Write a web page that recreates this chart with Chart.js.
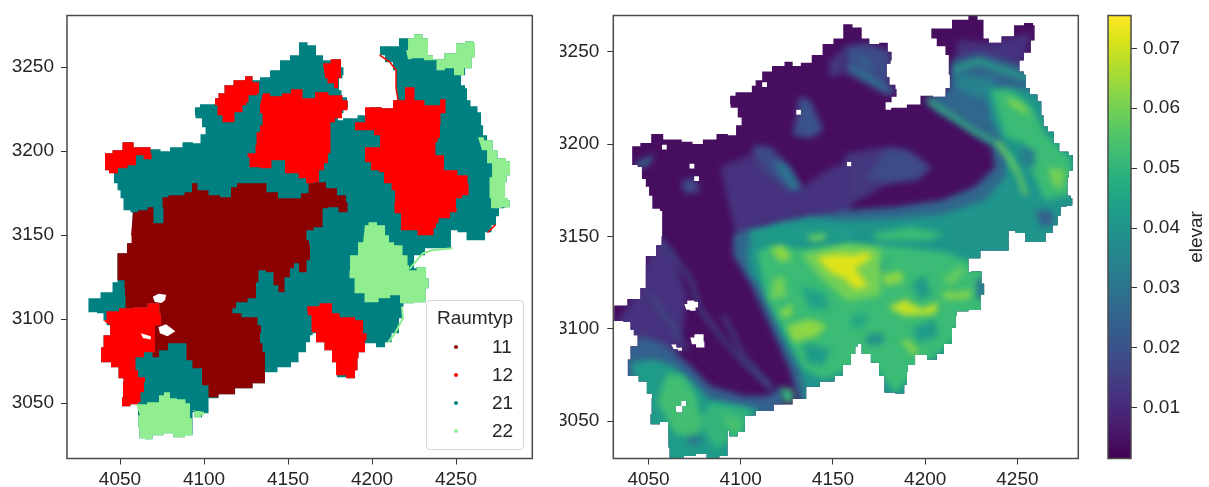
<!DOCTYPE html>
<html><head><meta charset="utf-8">
<script src="https://cdn.jsdelivr.net/npm/chart.js@4/dist/chart.umd.js"></script>
<style>
html,body{margin:0;padding:0;background:#fff;width:1209px;height:487px;overflow:hidden;font-family:"Liberation Sans",Arial,sans-serif;color:#262626}
canvas{position:absolute;top:0}
#legend{position:absolute;left:426px;top:300px;width:96px;height:148px;border:1.5px solid #d8d8d8;border-radius:4px;background:rgba(255,255,255,.85);font-size:19px}
#legend .t{position:absolute;left:0;right:0;top:6px;text-align:center}
#legend .r{position:absolute;left:0;right:0;height:20px;line-height:20px}
#legend .d{position:absolute;left:27px;top:8px;width:4px;height:4px;border-radius:50%}
#legend .l{position:absolute;left:65px}
#cblabel{position:absolute;left:1166px;top:226px;width:60px;text-align:center;font-size:19px;transform:rotate(-90deg)}
</style></head><body>
<canvas id="c1" width="545" height="487" style="left:0"></canvas>
<canvas id="c2" width="530" height="487" style="left:560px"></canvas>
<canvas id="c3" width="114" height="487" style="left:1095px"></canvas>
<div id="legend"></div><div id="cblabel">elevar</div>
<script>
const raumtyp=['11','12','21','22'];
const raumColors=['#8b0000','#ff0000','#008080','#90ee90'];
const xTickValues=[4050,4100,4150,4200,4250];
const yTickValues=[3050,3100,3150,3200,3250];
const cbTickValues=[0.01,0.02,0.03,0.04,0.05,0.06,0.07];
const outline=[4042.9,3198.8,4051.8,3200.6,4054.7,3205.4,4058.9,3205.4,4060.7,3202.4,4066.6,3202.4,4073.1,3201.2,4078.4,3200,4084.3,3202.4,4093.2,3205.4,4096.7,3204.8,4102.1,3210.1,4102.7,3214.3,4097.9,3219.6,4095,3221.4,4097.3,3226.2,4100.9,3228,4108,3228,4108,3231.5,4112.1,3234.5,4115.1,3239.3,4122.8,3242.3,4128.7,3244.6,4131.7,3242.3,4137.6,3244,4143.5,3248.2,4149.4,3254.2,4155.3,3257.1,4160.1,3264.9,4165.4,3263.1,4170.1,3257.1,4173.7,3254.2,4180.8,3254.8,4183.1,3250,4184.9,3245.2,4181.9,3243.5,4180.8,3236.3,4184.9,3232.1,4187.3,3229.8,4186.1,3225.6,4181.9,3222.6,4179.6,3218.5,4187.9,3219.6,4196.7,3221.4,4202.7,3226.2,4210.4,3225.6,4216.3,3230.4,4215.1,3237.5,4215.1,3248.2,4211.5,3253,4205.6,3257.1,4205.6,3262.5,4214.5,3262.5,4219.2,3267.3,4223.4,3267.3,4228.1,3269.6,4233.4,3267.3,4234.6,3257.1,4239.3,3254.8,4248.2,3258.3,4253,3264.3,4258.9,3265.5,4263,3264.3,4260.6,3256,4258.9,3249.4,4253,3245.2,4254.1,3239.3,4257.7,3237.5,4256.5,3230.4,4261.8,3226.8,4264.8,3223.2,4266,3215.5,4267.2,3209.5,4270.7,3206.6,4273.7,3200.6,4276.6,3195.8,4283.7,3194,4281.4,3185.7,4279.6,3181.6,4279.6,3172,4283.1,3170.8,4281.4,3166.7,4277.2,3166.1,4274.8,3161.3,4273.7,3156,4269.5,3151.8,4266,3147,4257.7,3147,4255.9,3151.8,4247,3153,4248.2,3142.3,4236.4,3142.3,4228.1,3138.1,4223.4,3130.4,4231.1,3131,4234.6,3124.4,4234,3118.5,4231.1,3110.1,4220.4,3109.5,4218.6,3107.2,4219.2,3100.6,4214.5,3091.7,4210.4,3086.3,4206.8,3083.3,4199.7,3085.7,4193.8,3080.4,4192,3076.8,4192.6,3069.7,4189.1,3064.9,4183.1,3065.5,4177.2,3074.4,4177.2,3081.6,4168.3,3086.3,4167.2,3091.7,4164.2,3090.5,4164.2,3086.3,4159.5,3080.4,4155.3,3074.4,4150.6,3071.4,4139.3,3068.5,4135.8,3061.9,4124.6,3058.9,4115.1,3055.4,4105,3053,4103.3,3044,4097.3,3041.7,4094.4,3044.7,4095,3031,4085.5,3029.8,4081.4,3032.2,4073.7,3031,4068.3,3028.6,4064.8,3029.2,4061.8,3035.7,4063.6,3042.9,4061.2,3049.4,4054.7,3048.2,4051.2,3053.6,4055.9,3062.5,4051.8,3064.9,4050,3071.4,4042.9,3074.4,4038.2,3083.3,4045.9,3090.5,4045.9,3096.4,4041.7,3099.4,4042.3,3103.6,4034,3104.2,4032.2,3112.5,4038.8,3112.5,4041.7,3116.1,4053,3122,4047.6,3130.4,4053,3139.3,4058.9,3145.2,4058.9,3150,4059.5,3163.7,4056.5,3164.9,4051.2,3172,4053,3176.8,4047.6,3181,4048.8,3187.5,4042.9,3188.7];
const type11=[4059.5,3163.7,4065.4,3164.9,4070.7,3166.7,4072.5,3157.1,4076.6,3157.1,4078.4,3166.7,4075.4,3172.6,4085.5,3173.8,4094.4,3175.6,4094.4,3181,4097.3,3181,4097.9,3176.8,4103.3,3176.8,4105,3173.8,4116.9,3172.6,4118,3178.6,4124,3181,4134.6,3181,4142.3,3175.6,4148.2,3172,4155.3,3172,4162.4,3175,4164.2,3181,4170.1,3181.6,4177.2,3178,4183.1,3173.8,4187.9,3169.6,4184.9,3163.7,4177.2,3166.7,4171.9,3166.1,4171.3,3154.8,4161.2,3153,4163,3147,4164.2,3144,4164.2,3135.1,4160.1,3128,4155.3,3133.3,4154.1,3130.4,4150.6,3125,4147.6,3116.1,4143.5,3120.2,4141.7,3128,4134.6,3129.2,4132.8,3122,4131.7,3112.5,4122.8,3110.1,4118,3106.6,4118.6,3103.6,4128.7,3101.2,4137.6,3096.4,4132.8,3091.7,4136.4,3085.7,4135.8,3080.4,4139.3,3069.7,4135.8,3061.9,4124.6,3058.9,4115.1,3055.4,4105,3053.6,4103.3,3060.7,4097.3,3070.8,4092,3075.6,4090.2,3085.7,4083.1,3085.7,4077.2,3081.6,4072.5,3077.4,4069.5,3080.4,4075.4,3096.4,4076.6,3103.6,4073.7,3109.5,4062.4,3107.2,4056.5,3106.6,4053.6,3114.3,4055.9,3118.5,4053,3123.2,4047.6,3130.4,4053,3139.3,4058.9,3145.2,4058.3,3150];
const type12=[
[4042.9,3198.8,4051.8,3200.6,4054.7,3205.4,4058.9,3205.4,4060.7,3202.4,4066.6,3202.4,4073.1,3198.8,4067.8,3195.2,4063.6,3197.6,4058.9,3191.7,4053.6,3189.9,4047.6,3186.9,4042.9,3188.7],
[4108,3231.5,4112.1,3234.5,4115.1,3239.3,4122.8,3242.3,4128.7,3244.6,4131.7,3241.1,4136.4,3234.5,4129.9,3233.3,4125.7,3229.2,4127.5,3227.4,4121,3223.2,4118,3217.3,4113.9,3217.3,4110.9,3221.4,4108,3227.4],
[4136.4,3234.5,4144.7,3232.7,4150.6,3234.5,4155.3,3236.9,4164.2,3231.5,4170.1,3235.1,4180.2,3233.3,4186.7,3230.4,4186.1,3224.4,4180.2,3219.6,4177.8,3217.3,4174.8,3209.5,4177.8,3204.8,4174.8,3198.8,4174.8,3192.9,4170.1,3188.7,4168.9,3181.6,4164.2,3181,4159.5,3183.9,4155.3,3186.9,4152.4,3186.9,4146.4,3194.6,4136.4,3189.9,4132.8,3190.5,4124,3196.4,4130.5,3198.8,4133.4,3203.6,4131.7,3211.3,4137.6,3215.5,4134.6,3222.6,4134.6,3227.4],
[4171.9,3252.4,4180.8,3254.8,4184.3,3245.2,4180.8,3243.5,4180.8,3237.5,4176,3240.5,4173.1,3243.5],
[4190.8,3217.3,4202.7,3226.2,4210.4,3225.6,4216.3,3230.4,4224.5,3238.1,4227.5,3230.4,4236.4,3227.4,4245.9,3231,4242.9,3222.6,4239.9,3215.5,4242.3,3207.7,4237,3205.4,4239.9,3197.6,4247,3188.7,4255.9,3185.7,4258.9,3181,4257.1,3173.8,4251.2,3172,4250,3166.1,4251.8,3163.7,4242.3,3160.1,4238.2,3157.1,4239.3,3154.2,4235.2,3150,4220.4,3153,4215.7,3163.1,4212.7,3169.6,4216.3,3176.8,4208.6,3181,4207.4,3187.5,4202.7,3188.7,4197.9,3193.5,4195.6,3202.4,4206.8,3202.4,4204.4,3209.5,4199.7,3212.5,4190.8,3212.5],
[4041.7,3099.4,4045.9,3104.8,4056.5,3106.6,4062.4,3107.2,4073.7,3109.5,4076.6,3103.6,4075.4,3096.4,4069.5,3080.4,4062.4,3077.4,4059.5,3069.7,4065.4,3065.5,4067.8,3062.5,4064.2,3056.6,4063.6,3050.6,4061.2,3049.4,4054.7,3048.2,4051.2,3053.6,4055.9,3062.5,4051.8,3064.9,4050,3071.4,4042.9,3074.4,4038.2,3083.3,4045.9,3090.5,4045.9,3096.4],
[4162.4,3107.7,4177.2,3109.5,4177.2,3103.6,4186.1,3101.2,4195.6,3099.4,4195.6,3091.7,4199.7,3087.5,4193.8,3080.4,4192,3076.8,4192.6,3069.7,4189.1,3064.9,4182,3066.7,4177.2,3074.4,4177.2,3081.6,4168.3,3086.3,4167.2,3092.3,4163,3102.4]
];
const type12Edges=[[4205.6,3257.1,4211.5,3253,4215.1,3248.2,4215.1,3237.5,4216.3,3230.4],[4269.5,3151.8,4273.7,3156]];
const type22=[
[4221,3260.1,4223.4,3267.3,4228.1,3269.6,4233.4,3267.3,4234.6,3257.1,4239.3,3254.8,4248.2,3258.3,4253,3264.3,4258.9,3265.5,4263,3264.3,4260.6,3256,4258.9,3249.4,4251.8,3245.2,4247,3249.4,4241.1,3248.2,4237,3254.2,4226.3,3255.4,4222.2,3254.8],
[4263.6,3208.3,4270.7,3206.6,4273.7,3200.6,4276.6,3195.8,4283.7,3194,4281.4,3185.7,4279.6,3181.6,4279.6,3172,4283.1,3170.8,4281.4,3166.7,4273.7,3166.1,4268.9,3172,4271.9,3184.5,4271.9,3192.9,4266,3200.6],
[4196.7,3155.9,4200.9,3157.7,4206.8,3155.9,4210.4,3150,4211.5,3145.8,4216.3,3144,4221.6,3138.1,4222.2,3132.1,4223.4,3129.2,4231.1,3131,4234.6,3124.4,4234,3118.5,4231.1,3110.1,4220.4,3109.5,4214.5,3114.3,4208.6,3112.5,4200.9,3110.1,4192,3115.5,4189.1,3124.4,4186.1,3129.2,4189.6,3138.1,4195.6,3145.8],
[4061.2,3049.4,4074.3,3050.6,4075.4,3054.8,4080.2,3056.6,4082.5,3053,4088.5,3052.4,4092.6,3050,4093.8,3041.1,4095,3031,4085.5,3029.8,4081.4,3032.2,4073.7,3031,4068.3,3028.6,4064.8,3029.2,4061.8,3035.7,4063.6,3042.9],
[4094.4,3045.9,4097.3,3041.7,4102.1,3042.9,4100.9,3045]
];
const type22Edges=[[4223.4,3130.4,4231.1,3139.3,4236.4,3141.1,4248.2,3142.3],[4218.6,3107.2,4219.2,3100.6,4214.5,3091.7,4210.4,3086.3]];
const holeBlobs=[
[4074.5,3095.2,4079,3097,4084.5,3092.9,4079.9,3089.8,4075.4,3091.6],
[4071.2,3113.4,4074.5,3115.2,4079,3114.6,4078.5,3111.5,4076.3,3109.7,4072.3,3110.3],
[4064,3091.6,4070,3089.8,4070,3088,4065.4,3088.9]
];
const holesRightOnly=[
[4066.3,3058.1,4072.7,3060.8,4071.8,3058.1,4069,3054.5,4066.9,3054.5],
[4113.6,3233.5,4116.2,3233.5,4116.2,3230.9,4113.6,3230.9],
[4132.1,3218.5,4134.7,3218.5,4134.7,3215.9,4132.1,3215.9],
[4059.1,3199.6,4061.7,3199.6,4061.7,3197,4059.1,3197],
[4074.1,3189.3,4076.7,3189.3,4076.7,3186.7,4074.1,3186.7],
[4076.6,3182.6,4079.2,3182.6,4079.2,3180,4076.6,3180],
[4159.6,3190.4,4162.2,3190.4,4162.2,3187.8,4159.6,3187.8]
];
const elevLevels=[.004,.012,.012,.013,.012,.013,.018,.02,.018,.03,.025,.018,.025,.018,.033,.026,.034,.04,.024,.042,.053,.05,.054,.03,.052,.042,.052,.052,.044,.042,.042,.042,.038,.042,.046,.03,.024,.032,.06,.063,.06,.06,.072,.063,.063,.063,.069,.062,.062,.058,.062,.06,.05];
const elevShapes=[
[4020,3020,4300,3020,4300,3280,4020,3280],
[4058.2,3150.5,4067.2,3136,4072.7,3117.9,4069,3087.1,4045.5,3083.5,4034.6,3103.4,4045.5,3119.7,4052.7,3141.4],
[4090.8,3187.6,4108.9,3194.9,4132.5,3175,4148.8,3185.8,4161.5,3191.3,4161.5,3147.8,4099.9,3147.8,4094.4,3171.3],
[4158.7,3194.9,4182.3,3198.5,4182.3,3178.6,4169.6,3171.3,4158.7,3165.9],
[4220.3,3256.5,4234.8,3254.7,4260.2,3260.1,4254.7,3243.8,4218.5,3245.6],
[4150,3245,4158.7,3252.9,4158.7,3238.4,4150,3236],
[4182.3,3198.5,4193.1,3196.7,4205.8,3187.6,4198.6,3180.4,4182.3,3178.6,4169.6,3182.2],
[4133.4,3225.7,4139.7,3223.9,4147,3207.6,4139.7,3203,4129.8,3204.9,4132.5,3214.8],
[4109,3199.4,4118,3198.5,4128.8,3187.6,4136,3175,4128.8,3174,4116,3184,4108,3195],
[4119.8,3191.3,4127,3188.5,4134.3,3176.8,4129.8,3175,4121.6,3185.8],
[4043.7,3189.5,4055.5,3194.9,4051,3187.6,4046.4,3187.6],
[4158.7,3252.9,4169.6,3254.7,4182.3,3251.1,4184,3245.6,4182.3,3231.1,4186.8,3229.3,4182.3,3225.7,4158.7,3238.4],
[4162.3,3250.2,4171.4,3245.6,4175,3238.4,4167.8,3242.9],
[4069,3179.5,4076.3,3182.2,4080,3174,4071.8,3173.1],
[4162.3,3242.9,4169.6,3238.4,4182.3,3230.2,4186.8,3229.3,4180.4,3229.3,4167.8,3236.5,4160.5,3242],
[4202.2,3224.8,4214.9,3229.3,4216.7,3245.6,4231.2,3249.2,4253,3243.8,4263.8,3236.6,4289,3218.4,4289,3090,4200,3040,4135,3055,4128.8,3078,4118,3101.6,4107,3125,4098,3139.6,4098,3150.5,4103.5,3153,4158.7,3164,4186,3165.9,4211.2,3169.5,4229.4,3176.8,4240.2,3187.6,4238.4,3198.5,4222.1,3209.4,4209.4,3216.6],
[4218.5,3238.4,4240.2,3234.7,4234.8,3223.9,4220.3,3229.3],
[4234.8,3231.1,4260.2,3229.3,4289,3211.2,4289,3080,4200,3040,4140,3050,4134.3,3078,4123.4,3098,4116.2,3117.9,4107,3130.6,4105.3,3141.4,4108.9,3150.5,4121.6,3156.8,4139.7,3160.5,4158.7,3158.6,4186,3159.5,4213,3162.3,4234.8,3169.5,4245.7,3182.2,4247.5,3194.9,4238.4,3213],
[4038.2,3088.9,4049,3096.1,4061.8,3090.7,4074.5,3079.8,4085.4,3069,4103.5,3063.5,4116.2,3063.5,4125.2,3069,4125.2,3056.3,4092.6,3023.7,4061.8,3023.7,4038.2,3056.3],
[4041.9,3081.6,4054.6,3083.5,4065.4,3079.8,4076.3,3070.8,4085.4,3061.7,4103.5,3058.1,4112.5,3056.3,4103.5,3041.8,4094.4,3025.5,4063.6,3025.5,4049.1,3054.5],
[4061.8,3076.2,4070.9,3074.4,4078.1,3063.5,4079.9,3052.7,4087.2,3054.5,4076.3,3040,4065.4,3043.6,4060,3054.5,4056.4,3059.9],
[4085,3060,4108,3056,4103,3042,4088,3035,4080,3048],
[4090.8,3056.3,4103.5,3049,4099.9,3042.7,4094.4,3047.2],
[4072.7,3041.8,4080.8,3041.8,4079.9,3037.3,4073.6,3037.3],
[4110.7,3141.4,4119.8,3146,4136,3143.3,4150.6,3145,4167.8,3146,4191.3,3144.2,4213,3141.4,4227.6,3136,4234.8,3130.6,4238.4,3110.6,4220.3,3096,4195,3074.4,4186,3065,4169.6,3085.3,4161.5,3078,4147,3072.6,4136,3078,4127,3096,4116,3116],
[4107,3153.2,4132.5,3155,4161.5,3155,4161.5,3147.8,4107,3147.8],
[4173.2,3151.4,4195,3155,4213,3151.4,4204,3147.8,4176.8,3147.8],
[4238.4,3229.3,4249.3,3229.3,4260.2,3220.3,4267.4,3205.8,4281.9,3191.3,4281.9,3173.1,4267.4,3169.5,4260.2,3185.8,4256.5,3200.3,4245.7,3204],
[4134.3,3123.3,4147,3119.7,4150.6,3110.6,4139.7,3110.6],
[4136,3092.5,4150.6,3088.9,4147,3079.8,4137.9,3081.6],
[4169.6,3132.4,4180.4,3137.8,4178.6,3130.6],
[4195,3125.1,4202.2,3128.8,4205.8,3117.9,4198.6,3116],
[4169.6,3096.1,4178.6,3098,4180.4,3092.5,4171.4,3090.7],
[4195,3099.8,4207.6,3105.2,4209.4,3096.1,4198.6,3092.5],
[4162.3,3107,4171.4,3108.8,4169.6,3101.6,4162.3,3099.8],
[4230.3,3127,4235.7,3127,4235.7,3116,4230.3,3116],
[4262,3164.1,4271,3164.1,4272.9,3156.8,4265.6,3155],
[4254.7,3198.5,4262,3196.7,4262,3187.6,4254.7,3189.5],
[4135,3140,4160,3146,4178,3143,4178,3118,4160,3115,4145,3128],
[4118,3143.3,4125.2,3145,4129.8,3137.8,4123.4,3136],
[4137.9,3150.5,4148.8,3151.4,4147,3147.8,4139.7,3147.8],
[4119.8,3127,4125.2,3128.8,4127,3117.9,4118,3116],
[4143.3,3138.7,4154.2,3140.5,4161.5,3139.6,4171.4,3141.4,4173.2,3138.7,4164,3132.4,4171.4,3123.3,4164,3121.5,4158.7,3127,4150.6,3130.6],
[4123.4,3109.7,4130.7,3113.4,4128.8,3107,4124.3,3106.1],
[4127,3101.6,4139.7,3105.2,4148.8,3101.6,4143.3,3096.1,4130.7,3092.5],
[4178.6,3128.8,4189.5,3131.5,4190.4,3125.1,4180.4,3123.3],
[4182.3,3111.5,4191.3,3116,4200.4,3110.6,4209.4,3114.3,4207.6,3107.9,4191.3,3107],
[4211.2,3120.6,4220.3,3119.7,4227.6,3121.5,4225.8,3116,4213,3116],
[4188.6,3094.3,4194,3093.4,4199.5,3087,4195,3086.2],
[4211.2,3127,4222.1,3134.2,4224,3130.6,4216.7,3123.3],
[4245.7,3225.7,4254.7,3222,4260.2,3214.8,4249.3,3220.3],
[4269.2,3187.6,4278.3,3185.8,4276.5,3175,4271,3178.6],
[4123.5,3068,4130.5,3067,4130.5,3059.5,4125.5,3060]
];
const ridgeLevels=[.022,.02,.02,.05,.06,.047];
const ridgeLines=[
[4060,3146.9,4074.5,3126.9,4079.9,3110.6,4090.8,3096.1,4103.5,3081.6,4119,3067],
[4052.7,3117.9,4063.6,3103.4,4072.7,3088.9],
[4092.6,3107,4103.5,3085.3,4118,3069],
[4204,3223,4214.9,3216.6,4227.6,3207.6,4242,3200.3,4247.5,3194.9,4251.1,3185.8],
[4242,3200.3,4247.5,3193,4253,3184,4256.5,3173.1],
[4218.5,3240.2,4231.2,3244.7,4243.9,3240.2,4258.4,3235.7]
];
const viridisStops=['#440154','#481567','#482677','#453781','#404788','#39568c','#33638d','#2d708e','#287d8e','#238a8d','#1f968b','#20a387','#29af7f','#3cbb75','#55c667','#73d055','#95d840','#b8de29','#dce319','#fde725'];
const cbMin=0.00152, cbMax=0.07548;
// the outlines were read against slightly offset gridlines: correction of the readings per panel
const readOffsetX=-1.79, readSlopeLeft=1.006, readSlopeRight=0.9968;

function rx(x,k){return 4050+(x-4050)*k+readOffsetX;}
function pts(a,k){const o=[];for(let i=0;i<a.length;i+=2)o.push({x:rx(a[i],k),y:a[i+1]});return o;}
function hex(c){return [1,3,5].map(i=>parseInt(c.substr(i,2),16));}
function viridis(v){
  let t=Math.max(0,Math.min(1,(v-cbMin)/(cbMax-cbMin)))*(viridisStops.length-1);
  const i=Math.min(Math.floor(t),viridisStops.length-2),f=t-i,a=hex(viridisStops[i]),b=hex(viridisStops[i+1]);
  return 'rgb('+a.map((q,k)=>Math.round(q+(b[k]-q)*f)).join(',')+')';
}
function poly(a,c,k,st){return {data:pts(a,k),showLine:true,fill:'shape',backgroundColor:c,borderColor:c,borderWidth:0,pointRadius:0,tension:0,stepped:st||false};}
function line(a,c,w,k){return {data:pts(a,k),showLine:true,fill:false,borderColor:c,borderWidth:w,pointRadius:0,tension:0,borderJoinStyle:'round',borderCapStyle:'round'};}

const tickFont={family:'"Liberation Sans",Arial,sans-serif',size:19};
const frame={id:'frame',afterDraw(ch){const a=ch.chartArea,c=ch.ctx;c.save();c.strokeStyle='#4a4a4a';c.lineWidth=1.5;
  c.strokeRect(a.left,a.top,a.width,a.height);c.restore();}};
function fixTicks(vals){return s=>{s.ticks=vals.map(value=>({value}));};}
function noPad(s){s.paddingTop=s.paddingBottom=s.paddingLeft=s.paddingRight=0;}
function axes(xmin,xmax,ymin,ymax,yw,yp){return {
  x:{type:'linear',min:xmin,max:xmax,border:{display:false},grid:{drawOnChartArea:false,tickLength:6,tickColor:'#333'},
     afterFit(s){s.height=28.5;noPad(s);},afterBuildTicks:fixTicks(xTickValues),
     ticks:{autoSkip:false,maxRotation:0,font:tickFont,color:'#262626',padding:4,callback:v=>String(v)}},
  y:{type:'linear',min:ymin,max:ymax,border:{display:false},grid:{drawOnChartArea:false,tickLength:6,tickColor:'#333'},
     afterFit(s){s.width=yw;noPad(s);},afterBuildTicks:fixTicks(yTickValues),
     ticks:{autoSkip:false,font:tickFont,color:'#262626',padding:yp,callback:v=>String(v)}}
};}
const common={responsive:false,animation:false,events:[],plugins:{legend:{display:false},tooltip:{enabled:false}}};

// left map: first listed is painted first
const kL=readSlopeLeft, st='middle';
const leftSets=[poly(outline,raumColors[2],kL,st),poly(type11,raumColors[0],kL,st)]
 .concat(type12.map(s=>poly(s,raumColors[1],kL,st)),type12Edges.map(s=>line(s,raumColors[1],1.5,kL)))
 .concat(type22.map(s=>poly(s,raumColors[3],kL,st)),type22Edges.map(s=>line(s,raumColors[3],2,kL)))
 .concat(holeBlobs.map(s=>poly(s,'#ffffff',kL)));
new Chart(document.getElementById('c1'),{type:'scatter',data:{datasets:leftSets.reverse()},
 options:{...common,layout:{padding:{top:15.5,right:12.7}},scales:axes(4018.45,4295.4,3017.1,3280.8,67,7)},plugins:[frame]});

// right map
const kR=readSlopeRight;
const clipPlugin={id:'clipMap',
 beforeDatasetsDraw(ch){const c=ch.ctx,X=ch.scales.x,Y=ch.scales.y;c.save();c.beginPath();
  [outline,...holeBlobs,...holesRightOnly].forEach(s=>{let lx,ly;for(let i=0;i<s.length;i+=2){const px=X.getPixelForValue(rx(s[i],kR)),py=Y.getPixelForValue(s[i+1]);
     if(!i)c.moveTo(px,py);else{const m=(lx+px)/2;c.lineTo(m,ly);c.lineTo(m,py);c.lineTo(px,py);}lx=px;ly=py;}c.closePath();});
  c.clip('evenodd');c.filter='blur(3px)';},
 afterDatasetsDraw(ch){ch.ctx.filter='none';ch.ctx.restore();}};
const rightSets=elevShapes.map((s,i)=>poly(s,viridis(elevLevels[i]),kR)).concat(ridgeLines.map((s,i)=>line(s,viridis(ridgeLevels[i]),i<3?3:4,kR)));
new Chart(document.getElementById('c2'),{type:'scatter',data:{datasets:rightSets.reverse()},
 options:{...common,layout:{padding:{top:15.5,right:11.7}},scales:axes(4030.9,4283,3029.7,3269.6,53.3,8)},plugins:[clipPlugin,frame]});

// colour bar
new Chart(document.getElementById('c3'),{type:'bar',data:{labels:['elevar'],datasets:[{data:[[cbMin,cbMax]],barPercentage:1,categoryPercentage:1,borderWidth:0,
  backgroundColor(ctx){const a=ctx.chart.chartArea;if(!a)return viridisStops[0];const g=ctx.chart.ctx.createLinearGradient(0,a.bottom,0,a.top);viridisStops.forEach((c,i)=>g.addColorStop(i/(viridisStops.length-1),c));return g;}}]},
 options:{...common,layout:{padding:{top:15.5,bottom:28.5,left:13}},scales:{
  x:{display:false},
  y:{position:'right',min:cbMin,max:cbMax,border:{display:false},grid:{drawOnChartArea:false,tickLength:6,tickColor:'#333'},afterFit(s){s.width=78;noPad(s);},afterBuildTicks:fixTicks(cbTickValues),
     ticks:{autoSkip:false,font:tickFont,color:'#262626',padding:6,callback:v=>v.toFixed(2)}}}},plugins:[frame]});

// legend
const L=document.getElementById('legend');
L.innerHTML='<div class="t">Raumtyp</div>'+raumtyp.map((t,i)=>'<div class="r" style="top:'+(36+i*28)+'px"><span class="d" style="background:'+raumColors[i]+'"></span><span class="l">'+t+'</span></div>').join('');
</script></body></html>
